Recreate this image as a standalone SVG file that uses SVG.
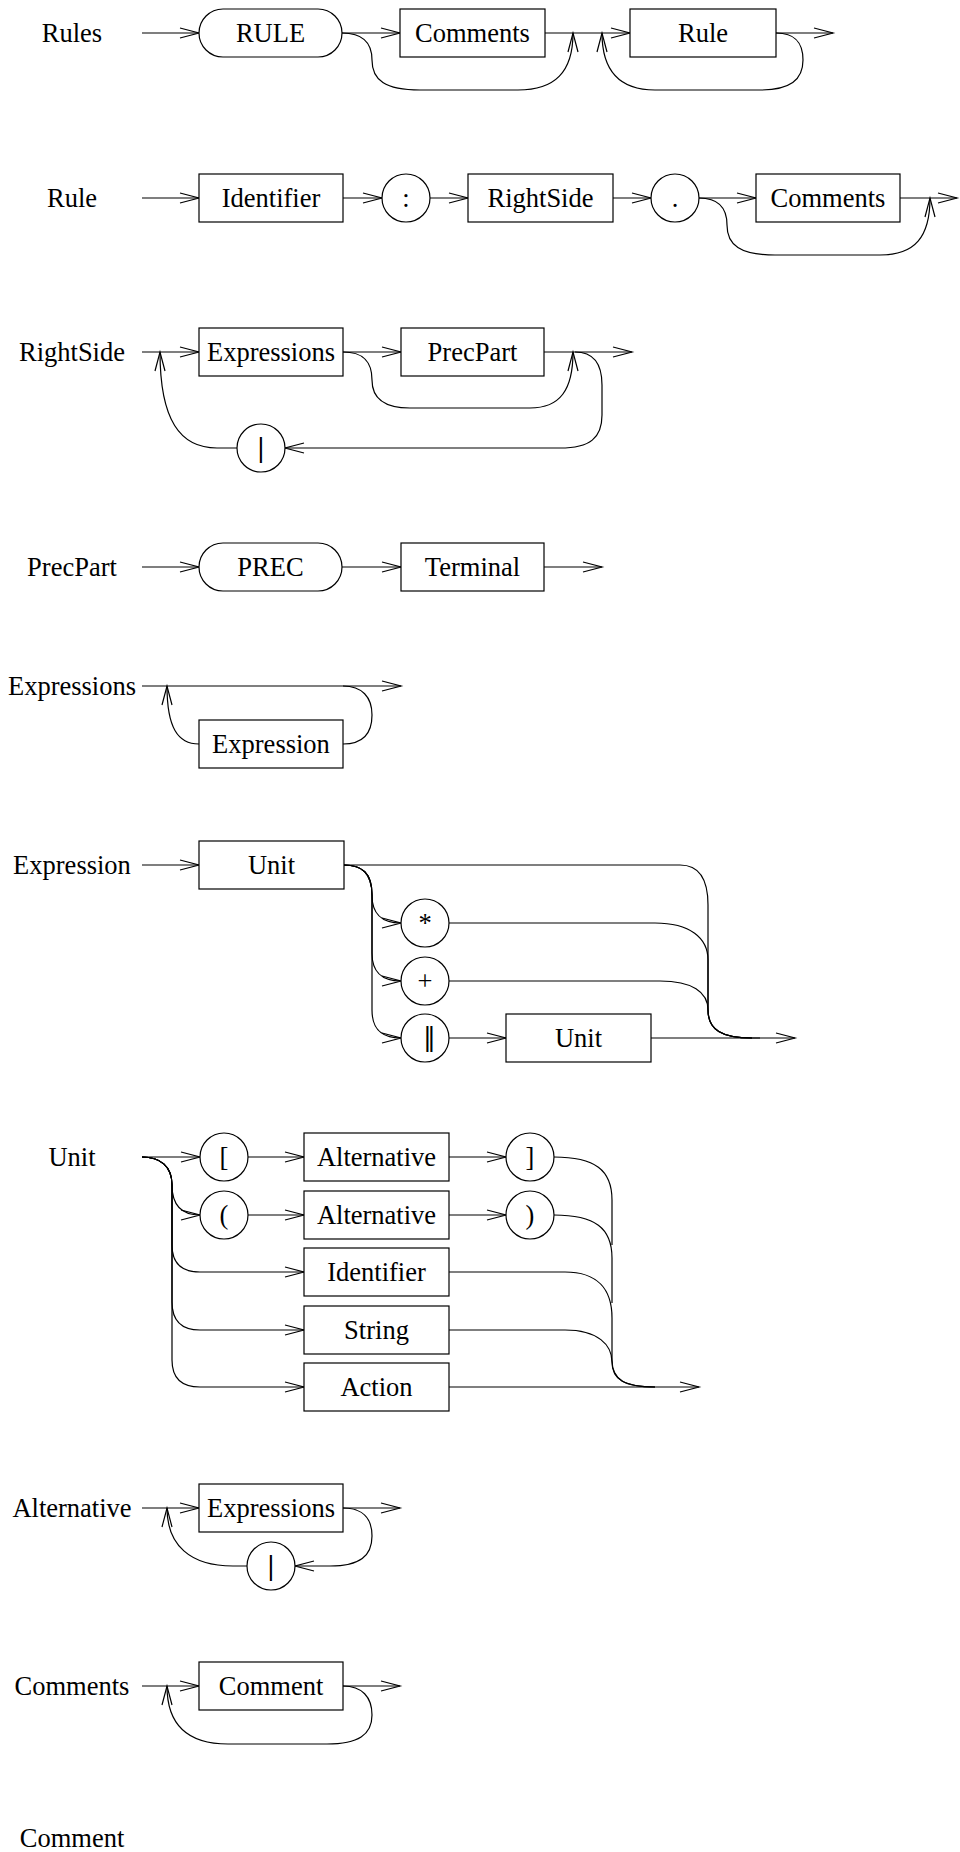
<svg xmlns="http://www.w3.org/2000/svg" width="960" height="1852" viewBox="0 0 960 1852">
  <defs>
    <style>
      .n rect, .n circle { fill: #fff; stroke: #000; stroke-width: 1.2; }
      .c path { fill: none; stroke: #000; stroke-width: 1.2; }
      .c path.a { marker-end: url(#arr); }
      text { font-family: "Liberation Serif", "Times New Roman", serif; font-size: 26.5px; fill: #000; text-anchor: middle; }
      text.bar { font-family: "DejaVu Serif", "Liberation Serif", serif; font-size: 26px; }
    </style>
    <!-- open chevron arrowhead -->
    <marker id="arr" markerUnits="userSpaceOnUse" viewBox="-21 -7 23 14" markerWidth="23" markerHeight="14" refX="0" refY="0" orient="auto" overflow="visible">
      <path d="M-19,-5 L0,0 L-19,5" fill="none" stroke="#000" stroke-width="1.2"/>
    </marker>
  </defs>
  <rect width="960" height="1852" fill="#fff"/>

  <!-- rule names -->
  <g id="labels">
    <text x="72" y="42">Rules</text>
    <text x="72" y="207">Rule</text>
    <text x="72" y="361">RightSide</text>
    <text x="72" y="576">PrecPart</text>
    <text x="72" y="695">Expressions</text>
    <text x="72" y="874">Expression</text>
    <text x="72" y="1166">Unit</text>
    <text x="72" y="1517">Alternative</text>
    <text x="72" y="1695">Comments</text>
    <text x="72" y="1847">Comment</text>
  </g>

  <g id="connectors" class="c">
    <!-- Rules -->
    <path class="a" d="M142,33 H199"/>
    <path class="a" d="M342,33 H400"/>
    <path class="a" d="M545,33 H630"/>
    <path class="a" d="M776,33 H833"/>
    <path class="a" d="M342,33 C362,33 372,42 372,60 C372,80 385,90 420,90 H518 C555,90 573,72 573,33"/>
    <path class="a" d="M776,33 C795,33 803,42 803,60 C803,80 790,90 760,90 H655 C620,90 602,72 602,33"/>

    <!-- Rule -->
    <path class="a" d="M142,198 H199"/>
    <path class="a" d="M343,198 H382"/>
    <path class="a" d="M430,198 H468"/>
    <path class="a" d="M613,198 H651"/>
    <path class="a" d="M699,198 H756"/>
    <path class="a" d="M900,198 H957"/>
    <path class="a" d="M699,198 C718,198 727,207 727,225 C727,245 740,255 775,255 H880 C915,255 930,237 930,198"/>

    <!-- RightSide -->
    <path class="a" d="M142,352 H199"/>
    <path class="a" d="M343,352 H401"/>
    <path class="a" d="M544,352 H632"/>
    <path class="a" d="M343,352 C362,352 372,360 372,380 C372,399 385,408 410,408 H530 C560,408 573,390 573,352"/>
    <path class="a" d="M575,352 C592,352 602,362 602,385 V415 C602,438 590,448 560,448 H285"/>
    <path class="a" d="M237,448 H217 C180,448 160,420 160,352"/>

    <!-- PrecPart -->
    <path class="a" d="M142,567 H199"/>
    <path class="a" d="M342,567 H401"/>
    <path class="a" d="M544,567 H602"/>

    <!-- Expressions -->
    <path class="a" d="M142,686 H401"/>
    <path d="M343,686 C362,686 372,697 372,715 C372,734 362,744 343,744"/>
    <path class="a" d="M199,744 C178,744 167,728 167,686"/>

    <!-- Expression -->
    <path class="a" d="M142,865 H199"/>
    <path d="M344,865 H680 C700,865 708,880 708,905 V1010 C708,1030 722,1038 752,1038 H760"/>
    <path class="a" d="M344,865 C362,865 372,873 372,895 C372,915 382,923 401,923"/>
    <path class="a" d="M344,865 C362,865 372,873 372,895 V953 C372,973 382,981 401,981"/>
    <path class="a" d="M344,865 C362,865 372,873 372,895 V1010 C372,1030 382,1038 401,1038"/>
    <path d="M449,923 H655 C690,923 708,938 708,960 V1010 C708,1030 722,1038 752,1038"/>
    <path d="M449,981 H660 C692,981 708,992 708,1010 C708,1030 722,1038 752,1038"/>
    <path class="a" d="M449,1038 H506"/>
    <path class="a" d="M651,1038 H795"/>

    <!-- Unit -->
    <path class="a" d="M142,1157 H200"/>
    <path class="a" d="M142,1157 C160,1157 172,1166 172,1185 C172,1205 182,1215 200,1215"/>
    <path class="a" d="M142,1157 C160,1157 172,1166 172,1185 V1245 C172,1264 182,1272 200,1272 H304"/>
    <path class="a" d="M142,1157 C160,1157 172,1166 172,1185 V1302 C172,1322 182,1330 200,1330 H304"/>
    <path class="a" d="M142,1157 C160,1157 172,1166 172,1185 V1360 C172,1379 182,1387 200,1387 H304"/>
    <path class="a" d="M248,1157 H304"/>
    <path class="a" d="M449,1157 H506"/>
    <path class="a" d="M248,1215 H304"/>
    <path class="a" d="M449,1215 H506"/>
    <path d="M554,1157 C595,1157 612,1170 612,1200 V1245"/>
    <path d="M554,1215 C595,1215 612,1228 612,1258 V1303"/>
    <path d="M449,1272 H565 C598,1272 612,1290 612,1318 V1360 C612,1380 625,1387 655,1387"/>
    <path d="M449,1330 H565 C598,1330 612,1345 612,1362 C612,1380 625,1387 655,1387"/>
    <path class="a" d="M449,1387 H699"/>

    <!-- Alternative -->
    <path class="a" d="M142,1508 H199"/>
    <path class="a" d="M343,1508 H400"/>
    <path class="a" d="M343,1508 C362,1508 372,1518 372,1536 C372,1556 360,1566 330,1566 H295"/>
    <path class="a" d="M247,1566 H233 C190,1566 167,1545 167,1508"/>

    <!-- Comments -->
    <path class="a" d="M142,1686 H199"/>
    <path class="a" d="M343,1686 H400"/>
    <path class="a" d="M343,1686 C362,1686 372,1697 372,1715 C372,1735 358,1744 327,1744 H228 C188,1744 167,1725 167,1686"/>
  </g>

  <!-- Rules -->
  <g id="rules-rule-kw" class="n"><rect x="199" y="9" width="143" height="48" rx="24"/><text x="270.5" y="42">RULE</text></g>
  <g id="rules-comments" class="n"><rect x="400" y="9" width="145" height="48"/><text x="472.5" y="42">Comments</text></g>
  <g id="rules-rule" class="n"><rect x="630" y="9" width="146" height="48"/><text x="703" y="42">Rule</text></g>

  <!-- Rule -->
  <g id="rule-identifier" class="n"><rect x="199" y="174" width="144" height="48"/><text x="271" y="207">Identifier</text></g>
  <g id="rule-colon" class="n"><circle cx="406" cy="198" r="24"/><text x="406" y="207">:</text></g>
  <g id="rule-rightside" class="n"><rect x="468" y="174" width="145" height="48"/><text x="540.5" y="207">RightSide</text></g>
  <g id="rule-dot" class="n"><circle cx="675" cy="198" r="24"/><text x="675" y="207">.</text></g>
  <g id="rule-comments" class="n"><rect x="756" y="174" width="144" height="48"/><text x="828" y="207">Comments</text></g>

  <!-- RightSide -->
  <g id="rs-expressions" class="n"><rect x="199" y="328" width="144" height="48"/><text x="271" y="361">Expressions</text></g>
  <g id="rs-precpart" class="n"><rect x="401" y="328" width="143" height="48"/><text x="472.5" y="361">PrecPart</text></g>
  <g id="rs-bar" class="n"><circle cx="261" cy="448" r="24"/><text class="bar" x="261" y="457">|</text></g>

  <!-- PrecPart -->
  <g id="pp-prec" class="n"><rect x="199" y="543" width="143" height="48" rx="24"/><text x="270.5" y="576">PREC</text></g>
  <g id="pp-terminal" class="n"><rect x="401" y="543" width="143" height="48"/><text x="472.5" y="576">Terminal</text></g>

  <!-- Expressions -->
  <g id="exs-expression" class="n"><rect x="199" y="720" width="144" height="48"/><text x="271" y="753">Expression</text></g>

  <!-- Expression -->
  <g id="ex-unit" class="n"><rect x="199" y="841" width="145" height="48"/><text x="271.5" y="874">Unit</text></g>
  <g id="ex-star" class="n"><circle cx="425" cy="923" r="24"/><text x="425" y="932">*</text></g>
  <g id="ex-plus" class="n"><circle cx="425" cy="981" r="24"/><text x="425" y="990">+</text></g>
  <g id="ex-dbar" class="n"><circle cx="425" cy="1038" r="24"/><text class="bar" x="427" y="1046" letter-spacing="-4.8">||</text></g>
  <g id="ex-unit2" class="n"><rect x="506" y="1014" width="145" height="48"/><text x="578.5" y="1047">Unit</text></g>

  <!-- Unit -->
  <g id="u-lbrack" class="n"><circle cx="224" cy="1157" r="24"/><text x="224" y="1166">[</text></g>
  <g id="u-alt1" class="n"><rect x="304" y="1133" width="145" height="48"/><text x="376.5" y="1166">Alternative</text></g>
  <g id="u-rbrack" class="n"><circle cx="530" cy="1157" r="24"/><text x="530" y="1166">]</text></g>
  <g id="u-lparen" class="n"><circle cx="224" cy="1215" r="24"/><text x="224" y="1224">(</text></g>
  <g id="u-alt2" class="n"><rect x="304" y="1191" width="145" height="48"/><text x="376.5" y="1224">Alternative</text></g>
  <g id="u-rparen" class="n"><circle cx="530" cy="1215" r="24"/><text x="530" y="1224">)</text></g>
  <g id="u-identifier" class="n"><rect x="304" y="1248" width="145" height="48"/><text x="376.5" y="1281">Identifier</text></g>
  <g id="u-string" class="n"><rect x="304" y="1306" width="145" height="48"/><text x="376.5" y="1339">String</text></g>
  <g id="u-action" class="n"><rect x="304" y="1363" width="145" height="48"/><text x="376.5" y="1396">Action</text></g>

  <!-- Alternative -->
  <g id="alt-expressions" class="n"><rect x="199" y="1484" width="144" height="48"/><text x="271" y="1517">Expressions</text></g>
  <g id="alt-bar" class="n"><circle cx="271" cy="1566" r="24"/><text class="bar" x="271" y="1575">|</text></g>

  <!-- Comments -->
  <g id="cs-comment" class="n"><rect x="199" y="1662" width="144" height="48"/><text x="271" y="1695">Comment</text></g>
</svg>
